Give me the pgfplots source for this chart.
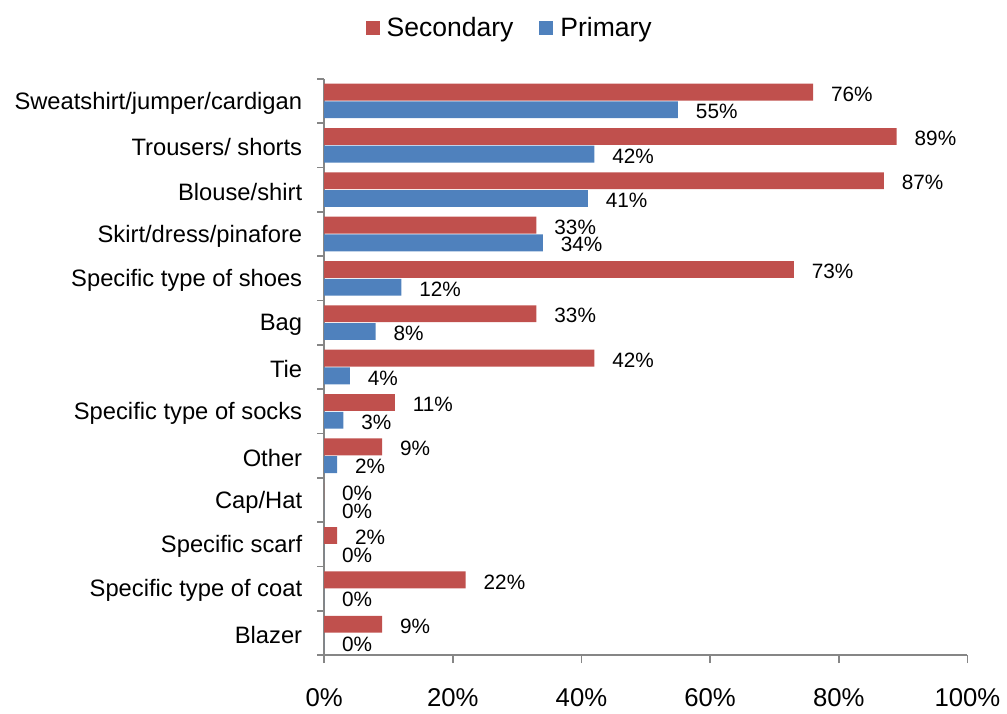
\documentclass[border=0pt]{standalone}
\usepackage{pgfplots}
\pgfplotsset{compat=1.18}
\usepackage{fontspec}
\setmainfont{Liberation Sans}

\definecolor{secred}{HTML}{C0504D}
\definecolor{priblue}{HTML}{4F81BD}
\definecolor{axisgray}{HTML}{868686}

\begin{document}
\begin{tikzpicture}
\begin{axis}[
    scale only axis,
    width=322.5pt, height=289pt,
    xbar, bar width=0.38,
    xmin=0, xmax=100,
    ymin=-0.5, ymax=12.5,
    axis x line*=bottom, axis y line*=left,
    axis line style={draw=axisgray, line width=0.8pt},
    xtick={0,20,...,100},
    xticklabel={\pgfmathprintnumber{\tick}\%},
    xtick align=outside,
    major tick length=4pt,
    every major x tick/.append style={draw=axisgray, line width=0.8pt},
    xticklabel style={font=\fontsize{12.9}{14}\selectfont, yshift=-9pt},
    ytick={0,...,12},
    yticklabels={Blazer, Specific type of coat, Specific scarf, Cap/Hat, Other,
        Specific type of socks, Tie, Bag, Specific type of shoes,
        Skirt/dress/pinafore, Blouse/shirt, Trousers/ shorts,
        Sweatshirt/jumper/cardigan},
    every major y tick/.style={draw=none},
    minor ytick={-0.5,0.5,...,12.5},
    every minor y tick/.style={draw=axisgray, line width=0.8pt},
    minor tick length=3.5pt,
    ytick align=outside,
    yticklabel style={font=\fontsize{11.9}{14}\selectfont, xshift=-3.5pt, yshift=-1pt},
    /pgf/number format/assume math mode=true,
    point meta=x,
    nodes near coords={\pgfmathprintnumber{\pgfplotspointmeta}\%},
    nodes near coords align={horizontal},
    every node near coord/.append style={font=\fontsize{10.4}{12}\selectfont, black, anchor=west, xshift=5.5pt, yshift=-1pt},
    legend style={at={(0.29,1.088)}, anchor=center, draw=none, fill=none,
        legend columns=2, font=\fontsize{13.3}{15}\selectfont,
        /tikz/every odd column/.append style={column sep=1.5pt},
        /tikz/every even column/.append style={column sep=11pt}},
    legend image code/.code={\fill[#1] (0pt,-3.5pt) rectangle (7pt,3.5pt);},
    clip=false,
]
\addplot[fill=secred, draw=none, bar shift=0.2] coordinates {
    (9,0) (22,1) (2,2) (0,3) (9,4) (11,5) (42,6) (33,7) (73,8) (33,9) (87,10) (89,11) (76,12)
};
\addlegendentry{Secondary}
\addplot[fill=priblue, draw=none, bar shift=-0.2] coordinates {
    (0,0) (0,1) (0,2) (0,3) (2,4) (3,5) (4,6) (8,7) (12,8) (34,9) (41,10) (42,11) (55,12)
};
\addlegendentry{Primary}
\coordinate (bl) at (rel axis cs:0,0);
\end{axis}
\path (bl) ++(-162.5pt,-27pt) rectangle ++(503.5pt,355.5pt);
\end{tikzpicture}
\end{document}
